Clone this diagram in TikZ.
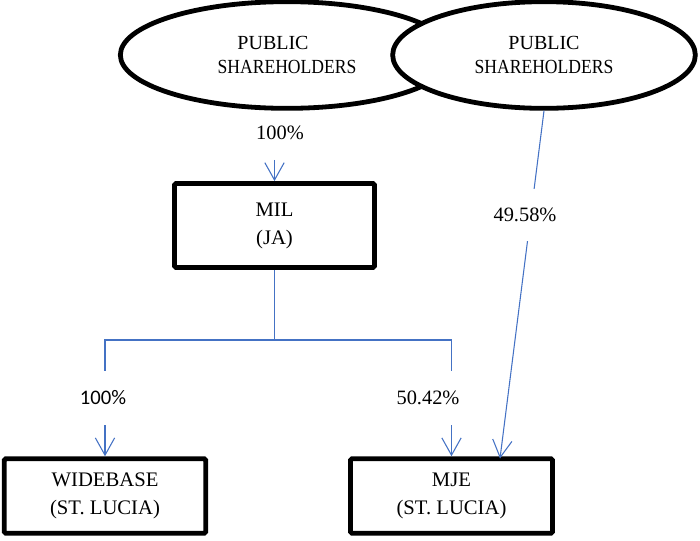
\documentclass[tikz,border=0pt]{standalone}
\usepackage{fontspec}
\setmainfont{Liberation Serif}
\newfontfamily\calfont{Carlito}
\usepackage{tikz}
\usetikzlibrary{shapes.geometric}
\usetikzlibrary{arrows.meta}
\definecolor{linkblue}{RGB}{68,114,196}
\newcommand{\narrow}[1]{\scalebox{0.88}[1]{#1}}

\begin{document}
\begin{tikzpicture}[x=0.75pt, y=-0.75pt,
		holder/.style={ellipse, draw, line width=3.6pt, fill=white, inner sep=0pt, align=center, font=\fontsize{15}{18.2}\selectfont},
		firm/.style={rectangle, draw, line width=3.6pt, rounded corners=1.2pt, fill=white, inner sep=0pt, align=center, font=\fontsize{15.5}{21}\selectfont},
		pct/.style={inner sep=1pt, font=\fontsize{15.3}{17}\selectfont},
		gap/.style={pct, fill=white},
		link/.style={draw=linkblue, line width=0.8pt},
		arr/.style={link, -{Straight Barb[length=13pt, width=14.5pt]}}]
	\useasboundingbox (0,0) rectangle (700,540);
	
	\node[holder, minimum width=250pt, minimum height=80pt] (pub1) at (287,55) {PUBLIC\hspace*{21pt}\\\narrow{SHAREHOLDERS}};
	\node[holder, minimum width=227pt, minimum height=80pt] (pub2) at (544,55) {PUBLIC\\\narrow{SHAREHOLDERS}};
	\node[firm, minimum width=150pt, minimum height=63pt] (mil) at (274.5,225.5) {MIL\\(JA)};
	\node[firm, minimum width=151pt, minimum height=56pt] (wide) at (105,496) {WIDEBASE\\(ST. LUCIA)};
	\node[firm, minimum width=151.5pt, minimum height=56pt] (mje) at (451.5,496) {MJE\\(ST. LUCIA)};
	
	\node[pct, minimum height=40pt] (pctmil) at (280,133) {100\%};
	
	\coordinate (split) at (274.5,340);
	\coordinate (mjein) at (500,458.5);
	
	\draw[arr]  (pctmil.south -| mil) -- (mil);
	\draw[link] (mil) -- (split);
	\draw[arr]  (split) -| (wide.north);
	\draw[arr]  (split) -| (mje.north);
	\draw[arr]  (pub2.south) -- (mjein);
	
	\node[gap, minimum height=41pt, font=\calfont\fontsize{15.5}{17}\selectfont] (pctwide) at (103,398) {100\%};
	\node[gap, minimum height=41pt] (pctmje) at (428,398) {50.42\%};
	\node[gap, minimum height=39pt] (pctpub) at (525,215) {49.58\%};
\end{tikzpicture}
\end{document}
